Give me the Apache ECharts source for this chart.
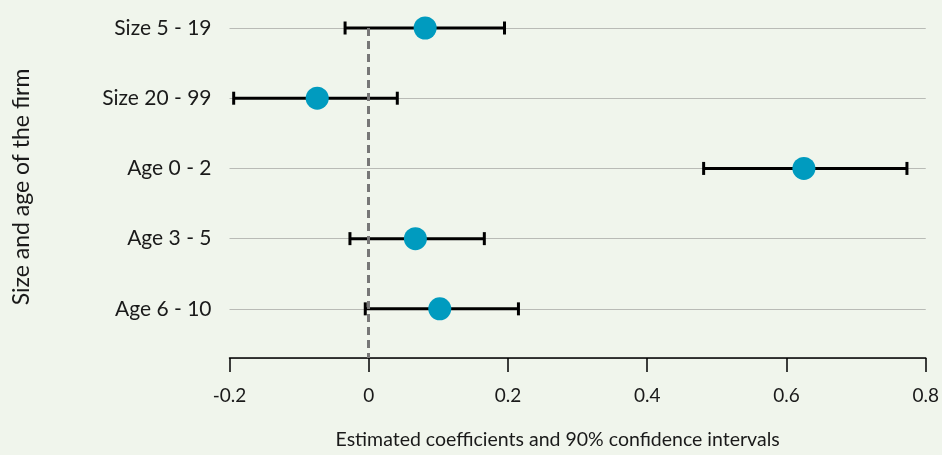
<!DOCTYPE html>
<html>
<head>
<meta charset="utf-8">
<script src="https://cdn.jsdelivr.net/npm/echarts@6/dist/echarts.min.js"></script>
<style>
html,body{margin:0;padding:0;background:#f0f5ec;}
#chart{width:942px;height:455px;}
</style>
</head>
<body>
<div id="chart"></div>
<script>
const categories = ['Size 5 - 19', 'Size 20 - 99', 'Age 0 - 2', 'Age 3 - 5', 'Age 6 - 10'];
const estimates = [0.081, -0.074, 0.625, 0.067, 0.102];
const ciLow = [-0.034, -0.194, 0.481, -0.027, -0.005];
const ciHigh = [0.195, 0.041, 0.773, 0.166, 0.215];
const xTicks = [-0.2, 0, 0.2, 0.4, 0.6, 0.8];

const FONT = 'Lato';
const chart = echarts.init(document.getElementById('chart'));

const pointData = estimates.map((v, i) => [v, i]);
const ciData = ciLow.map((lo, i) => [lo, ciHigh[i], i]);

chart.setOption({
  backgroundColor: '#f0f5ec',
  animation: false,
  grid: { left: 229.5, right: 14, top: 28, bottom: 94, containLabel: false },
  xAxis: {
    type: 'value',
    min: -0.2, max: 0.8, interval: 0.2,
    axisLine: { show: true, onZero: false, lineStyle: { color: '#000', width: 1.5 } },
    axisTick: { show: true, length: 14, lineStyle: { color: '#000', width: 1.5 } },
    axisLabel: {
      margin: 28, color: '#1a1a1a', fontFamily: FONT, fontSize: 19,
      formatter: v => { const r = Math.round(v * 10) / 10; return xTicks.indexOf(r) >= 0 ? String(r) : ''; }
    },
    splitLine: { show: false },
    name: 'Estimated coefficients and 90% confidence intervals',
    nameLocation: 'middle', nameGap: 72,
    nameTextStyle: { color: '#1a1a1a', fontFamily: FONT, fontSize: 19.5, padding: [0, 40, 0, 0] }
  },
  yAxis: {
    type: 'value', inverse: true,
    min: 0, max: 4.7, interval: 1,
    axisLine: { show: false, onZero: false },
    axisTick: { show: false },
    axisLabel: {
      margin: 18, color: '#1a1a1a', fontFamily: FONT, fontSize: 21,
      formatter: v => (Number.isInteger(v) && categories[v] !== undefined) ? categories[v] : ''
    },
    splitLine: { show: true, lineStyle: { color: '#b9bbb6', width: 1.2 } },
    name: 'Size and age of the firm',
    nameLocation: 'middle', nameRotate: 90, nameGap: 196,
    nameTextStyle: { color: '#1a1a1a', fontFamily: FONT, fontSize: 23, padding: [0, 0, 0, 12] }
  },
  series: [
    {
      type: 'custom',
      data: ciData,
      z: 3,
      renderItem: function (params, api) {
        const lo = api.coord([api.value(0), api.value(2)]);
        const hi = api.coord([api.value(1), api.value(2)]);
        const h = 6.5;
        const style = { stroke: '#000', lineWidth: 3 };
        return {
          type: 'group',
          children: [
            { type: 'line', shape: { x1: lo[0], y1: lo[1], x2: hi[0], y2: hi[1] }, style: style },
            { type: 'line', shape: { x1: lo[0], y1: lo[1] - h, x2: lo[0], y2: lo[1] + h }, style: style },
            { type: 'line', shape: { x1: hi[0], y1: hi[1] - h, x2: hi[0], y2: hi[1] + h }, style: style }
          ]
        };
      },
      markLine: {
        silent: true, symbol: 'none',
        lineStyle: { type: [8, 5], color: '#777', width: 3 },
        label: { show: false },
        data: [[{ coord: [0, 0] }, { coord: [0, 4.7] }]]
      }
    },
    {
      type: 'scatter',
      data: pointData,
      symbol: 'circle', symbolSize: 23,
      itemStyle: { color: '#009bbf', opacity: 1 },
      z: 4
    }
  ]
});
</script>
</body>
</html>
